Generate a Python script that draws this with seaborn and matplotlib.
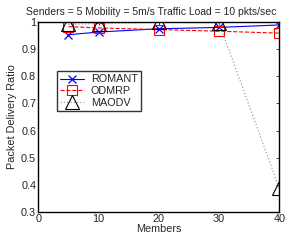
import matplotlib
matplotlib.use('Agg')
import numpy as np
import pandas as pd
import matplotlib.pyplot as plt
import seaborn as sns

members = [5, 10, 20, 30, 40]
romant = [0.952, 0.962, 0.974, 0.979, 0.988]
odmrp = [0.982, 0.977, 0.971, 0.965, 0.958]
maodv = [0.990, 0.993, 0.998, 0.996, 0.388]

sns.set_style('white')
plt.rcParams['font.family'] = ['Liberation Sans', 'DejaVu Sans']

fig = plt.figure(figsize=(2.87, 2.42), dpi=100)
ax = fig.add_axes([0.1334, 0.1227, 0.8398, 0.7877])

sns.lineplot(x=members, y=romant, ax=ax, color='blue', linestyle='-', linewidth=0.8,
             marker='x', markersize=6, markeredgewidth=0.9, markeredgecolor='blue', label='ROMANT')
sns.lineplot(x=members, y=odmrp, ax=ax, color='red', linestyle='--', linewidth=0.8,
             marker='s', markersize=7, markerfacecolor='none', markeredgewidth=0.8,
             markeredgecolor='red', label='ODMRP')
sns.lineplot(x=members, y=maodv, ax=ax, color='#a0a0a0', linestyle=':', linewidth=0.9,
             marker='^', markersize=10, markerfacecolor='none', markeredgewidth=0.8,
             markeredgecolor='black', label='MAODV')

ax.set_xlim(0, 40)
ax.set_ylim(0.3, 1.0)
ax.set_xticks([0, 10, 20, 30, 40])
ax.set_yticks(np.arange(0.3, 1.01, 0.1))
ax.set_yticklabels(['0.3', '0.4', '0.5', '0.6', '0.7', '0.8', '0.9', '1'])
ax.tick_params(direction='in', length=2.5, width=0.6, labelsize=7.8, pad=1.5,
               top=True, right=True)
for s in ax.spines.values():
    s.set_linewidth(1.0)
    s.set_color('black')

ax.set_xlabel('Members', fontsize=7.8, labelpad=0)
ax.set_ylabel('Packet Delivery Ratio', fontsize=7.8, labelpad=3)
ax.set_title('Senders = 5 Mobility = 5m/s Traffic Load = 10 pkts/sec', fontsize=7.5, pad=5,
             x=0.47)

leg = ax.legend(loc='upper left', bbox_to_anchor=(0.078, 0.74), borderaxespad=0,
                fontsize=7.8, frameon=True, fancybox=False, edgecolor='black',
                handlelength=2.2, borderpad=0.3, labelspacing=0.15, handletextpad=0.6)
leg.get_frame().set_linewidth(1.0)

fig.savefig('out.png', dpi=100)
